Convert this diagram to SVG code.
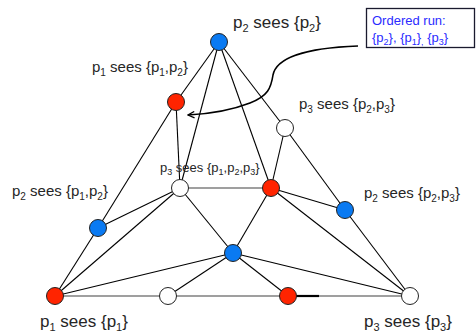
<svg xmlns="http://www.w3.org/2000/svg" width="476" height="334" viewBox="0 0 476 334">
<style>
.e{stroke:#000;stroke-width:1.1;fill:none}
.g{stroke:#7f7f7f;stroke-width:1.6;fill:none}
.n{stroke:#222;stroke-width:1}
.b{fill:#0A7AF2}
.r{fill:#FF2400}
.w{fill:#fff}
.t{font-family:"Liberation Sans",Arial,sans-serif;fill:#262626}
.bx{font-family:"Liberation Sans",Arial,sans-serif;fill:#2B2BFF;font-size:13px}
</style>
<defs>
<marker id="ah" viewBox="0 0 10 10" refX="9" refY="5" markerWidth="8" markerHeight="8" markerUnits="userSpaceOnUse" orient="auto">
<path d="M1,1 L9,5 L1,9" fill="none" stroke="#000" stroke-width="1.6"/>
</marker>
</defs>
<g id="connectors">
<line class="g" x1="180" y1="188" x2="271" y2="188"/>
<line class="g" x1="55" y1="296" x2="410" y2="296"/>
<line x1="296" y1="296" x2="319" y2="296" stroke="#000" stroke-width="2.2"/>
<line class="e" x1="219" y1="42" x2="176" y2="102"/>
<line class="e" x1="176" y1="102" x2="98" y2="228"/>
<line class="e" x1="98" y1="228" x2="55" y2="296"/>
<line class="e" x1="219" y1="42" x2="285" y2="128"/>
<line class="e" x1="285" y1="128" x2="345" y2="210"/>
<line class="e" x1="345" y1="210" x2="410" y2="296"/>
<line class="e" x1="219" y1="42" x2="180" y2="188"/>
<line class="e" x1="219" y1="42" x2="271" y2="188"/>
<line class="e" x1="176" y1="102" x2="180" y2="188"/>
<line class="e" x1="285" y1="128" x2="271" y2="188"/>
<line class="e" x1="180" y1="188" x2="98" y2="228"/>
<line class="e" x1="180" y1="188" x2="55" y2="296"/>
<line class="e" x1="180" y1="188" x2="233" y2="253"/>
<line class="e" x1="55" y1="296" x2="233" y2="253"/>
<line class="e" x1="168" y1="296" x2="233" y2="253"/>
<line class="e" x1="288" y1="296" x2="233" y2="253"/>
<line class="e" x1="410" y1="296" x2="233" y2="253"/>
<line class="e" x1="271" y1="188" x2="233" y2="253"/>
<line class="e" x1="271" y1="188" x2="345" y2="210"/>
<line class="e" x1="271" y1="188" x2="410" y2="296"/>
<path d="M358,46 C300,48 276,60 273,75 C271,88 268,96 250,103 C232,110 208,114 188,115" fill="none" stroke="#000" stroke-width="1.6" marker-end="url(#ah)"/>
</g>
<g id="n_top"><circle class="n b" cx="219" cy="42" r="8.5"/></g>
<g id="n_rl"><circle class="n r" cx="176" cy="102" r="8.5"/></g>
<g id="n_wr"><circle class="n w" cx="285" cy="128" r="8.5"/></g>
<g id="n_wc"><circle class="n w" cx="180" cy="188" r="8.5"/></g>
<g id="n_rc"><circle class="n r" cx="271" cy="188" r="8.5"/></g>
<g id="n_bl"><circle class="n b" cx="98" cy="228" r="8.5"/></g>
<g id="n_br"><circle class="n b" cx="345" cy="210" r="8.5"/></g>
<g id="n_bc"><circle class="n b" cx="233" cy="253" r="8.5"/></g>
<g id="n_rbl"><circle class="n r" cx="55" cy="296" r="8.5"/></g>
<g id="n_wb"><circle class="n w" cx="168" cy="296" r="8.5"/></g>
<g id="n_rb"><circle class="n r" cx="288" cy="296" r="8.5"/></g>
<g id="n_wbr"><circle class="n w" cx="410" cy="296" r="8.5"/></g>
<g id="labels">
<text class="t" x="233" y="28" font-size="17">p<tspan font-size="11" dy="4">2</tspan><tspan dy="-4"> sees {p</tspan><tspan font-size="11" dy="4">2</tspan><tspan dy="-4">}</tspan></text>
<text class="t" x="92" y="72" font-size="15">p<tspan font-size="10" dy="4">1</tspan><tspan dy="-4"> sees {p</tspan><tspan font-size="10" dy="4">1</tspan><tspan dy="-4">,p</tspan><tspan font-size="10" dy="4">2</tspan><tspan dy="-4">}</tspan></text>
<text class="t" x="299" y="109" font-size="15">p<tspan font-size="10" dy="4">3</tspan><tspan dy="-4"> sees {p</tspan><tspan font-size="10" dy="4">2</tspan><tspan dy="-4">,p</tspan><tspan font-size="10" dy="4">3</tspan><tspan dy="-4">}</tspan></text>
<text class="t" x="160" y="172" font-size="13">p<tspan font-size="9" dy="3">3</tspan><tspan dy="-3"> sees {p</tspan><tspan font-size="9" dy="3">1</tspan><tspan dy="-3">,p</tspan><tspan font-size="9" dy="3">2</tspan><tspan dy="-3">,p</tspan><tspan font-size="9" dy="3">3</tspan><tspan dy="-3">}</tspan></text>
<text class="t" x="12" y="196" font-size="15">p<tspan font-size="10" dy="4">2</tspan><tspan dy="-4"> sees {p</tspan><tspan font-size="10" dy="4">1</tspan><tspan dy="-4">,p</tspan><tspan font-size="10" dy="4">2</tspan><tspan dy="-4">}</tspan></text>
<text class="t" x="364" y="198" font-size="15">p<tspan font-size="10" dy="4">2</tspan><tspan dy="-4"> sees {p</tspan><tspan font-size="10" dy="4">2</tspan><tspan dy="-4">,p</tspan><tspan font-size="10" dy="4">3</tspan><tspan dy="-4">}</tspan></text>
<text class="t" x="40" y="327" font-size="17">p<tspan font-size="11" dy="4">1</tspan><tspan dy="-4"> sees {p</tspan><tspan font-size="11" dy="4">1</tspan><tspan dy="-4">}</tspan></text>
<text class="t" x="364" y="327" font-size="17">p<tspan font-size="11" dy="4">3</tspan><tspan dy="-4"> sees {p</tspan><tspan font-size="11" dy="4">3</tspan><tspan dy="-4">}</tspan></text>
</g>
<g id="ordered_run">
<rect x="366.5" y="8.5" width="108" height="39" fill="#fff" stroke="#1a1a2e" stroke-width="1.3"/>
<text class="bx" x="372" y="25">Ordered run:</text>
<text class="bx" x="372" y="42">{p<tspan font-size="9" dy="3">2</tspan><tspan dy="-3">}, {p</tspan><tspan font-size="9" dy="3">1</tspan><tspan dy="-3">}</tspan><tspan font-size="9" dy="3">,</tspan><tspan dy="-3"> {p</tspan><tspan font-size="9" dy="3">3</tspan><tspan dy="-3">}</tspan></text>
</g>
</svg>
